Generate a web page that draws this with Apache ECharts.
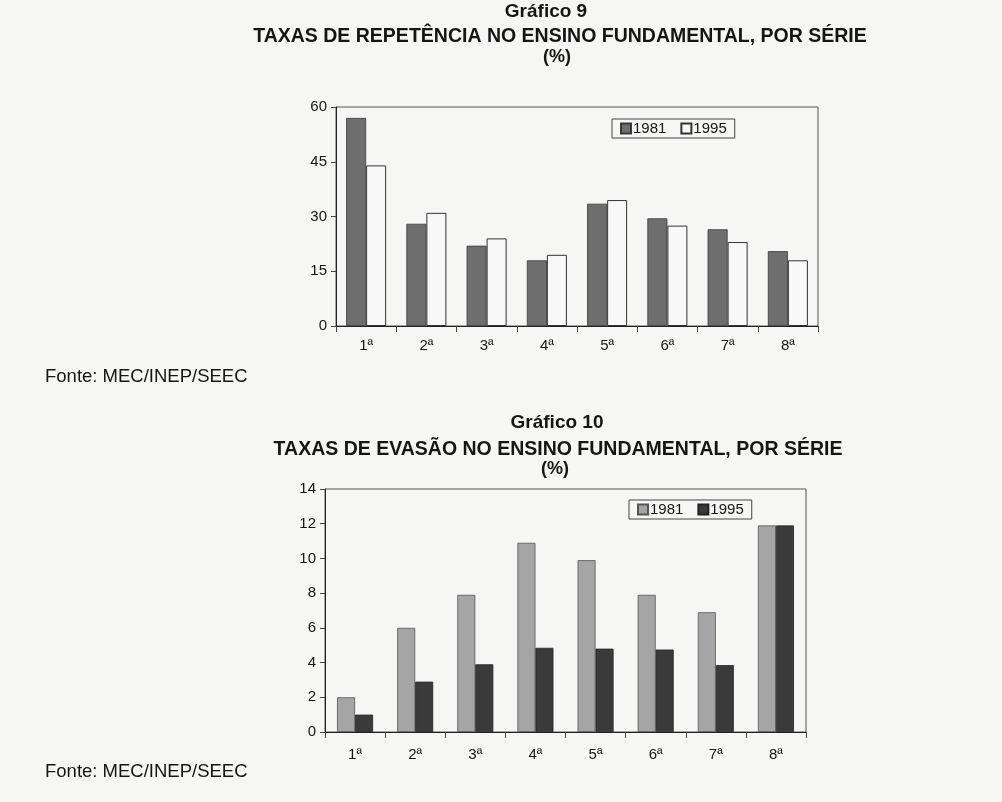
<!DOCTYPE html>
<html>
<head>
<meta charset="utf-8">
<script src="https://cdn.jsdelivr.net/npm/echarts@6/dist/echarts.min.js"></script>
<style>
html,body{margin:0;padding:0;background:#f6f6f4;}
#c{width:1002px;height:802px;}
</style>
</head>
<body>
<div id="c"></div>
<script>
// Shared categories
const series_labels = ['1ª','2ª','3ª','4ª','5ª','6ª','7ª','8ª'];

// Gráfico 9 – taxas de repetência (%)
const rep1981 = [57, 28, 22, 18, 33.5, 29.5, 26.5, 20.5];
const rep1995 = [44, 31, 24, 19.5, 34.5, 27.5, 23, 18];
const repTicks = [0, 15, 30, 45, 60];

// Gráfico 10 – taxas de evasão (%)
const eva1981 = [2, 6, 7.9, 10.9, 9.9, 7.9, 6.9, 11.9];
const eva1995 = [1, 2.9, 3.9, 4.85, 4.8, 4.75, 3.85, 11.9];
const evaTicks = [0, 2, 4, 6, 8, 10, 12, 14];

const FONT = 'Liberation Sans, Arial, sans-serif';
const chart = echarts.init(document.getElementById('c'), null, {renderer: 'canvas'});

function txt(x, y, s, size, bold, align) {
  return {
    type: 'text', x: x, y: y,
    style: {text: s, fontFamily: FONT, fontSize: size, fontWeight: bold ? 'bold' : 'normal',
            fill: '#151515', textAlign: align || 'center', textVerticalAlign: 'middle'}
  };
}

const axisLine = {show: true, lineStyle: {color: '#222', width: 1}};

function yAxis(idx, ticks) {
  return {
    type: 'value', gridIndex: idx, min: ticks[0], max: ticks[ticks.length - 1],
    interval: ticks[1] - ticks[0],
    axisLine: axisLine, axisTick: {show: true, length: 5, lineStyle: {color: '#444'}},
    splitLine: {show: false},
    axisLabel: {fontFamily: FONT, fontSize: 15, color: '#151515', margin: 9}
  };
}
function xAxis(idx, margin) {
  return {
    type: 'category', gridIndex: idx, data: series_labels,
    axisLine: axisLine,
    axisTick: {show: true, alignWithLabel: false, length: 6, inside: false, lineStyle: {color: '#444'}},
    axisLabel: {fontFamily: FONT, fontSize: 15, color: '#151515', margin: margin}
  };
}

function legend(left, top, names) {
  return {
    left: left, top: top, orient: 'horizontal',
    data: names.map(n => ({name: n, icon: 'rect'})),
    formatter: n => n.split(' ')[1],
    itemWidth: 10, itemHeight: 10, itemGap: 14,
    padding: [2, 8, 2, 8],
    borderColor: '#444', borderWidth: 1,
    textStyle: {fontFamily: FONT, fontSize: 15, color: '#151515', padding: [0, 0, 0, -3]},
    selectedMode: false
  };
}

const option = {
  backgroundColor: '#f6f6f4',
  animation: false,
  grid: [
    {left: 336, top: 107, width: 482, height: 219, show: true, borderColor: '#555', borderWidth: 1, backgroundColor: 'transparent'},
    {left: 325, top: 489, width: 481, height: 243, show: true, borderColor: '#555', borderWidth: 1, backgroundColor: 'transparent'}
  ],
  xAxis: [xAxis(0, 12), xAxis(1, 15)],
  yAxis: [yAxis(0, repTicks), yAxis(1, evaTicks)],
  legend: [
    legend(612, 119, ['Rep 1981', 'Rep 1995']),
    legend(629, 500, ['Eva 1981', 'Eva 1995'])
  ],
  series: [
    {name: 'Rep 1981', type: 'bar', xAxisIndex: 0, yAxisIndex: 0, data: rep1981,
     barWidth: 20, barGap: '0%',
     itemStyle: {color: '#6e6e6e', borderColor: '#3a3a3a', borderWidth: 0.8}},
    {name: 'Rep 1995', type: 'bar', xAxisIndex: 0, yAxisIndex: 0, data: rep1995,
     barWidth: 20, barGap: '0%',
     itemStyle: {color: '#f8f8f8', borderColor: '#333', borderWidth: 1}},
    {name: 'Eva 1981', type: 'bar', xAxisIndex: 1, yAxisIndex: 1, data: eva1981,
     barWidth: 18, barGap: '0%',
     itemStyle: {color: '#a5a5a5', borderColor: '#555', borderWidth: 0.8}},
    {name: 'Eva 1995', type: 'bar', xAxisIndex: 1, yAxisIndex: 1, data: eva1995,
     barWidth: 18, barGap: '0%',
     itemStyle: {color: '#3a3a3a', borderColor: '#222', borderWidth: 0.8}}
  ],
  graphic: [
    txt(546, 12, 'Gráfico 9', 19, true),
    txt(560, 37, 'TAXAS DE REPETÊNCIA NO ENSINO FUNDAMENTAL, POR SÉRIE', 19.5, true),
    txt(557, 57, '(%)', 18, true),
    txt(45, 377, 'Fonte: MEC/INEP/SEEC', 18.5, false, 'left'),
    txt(557, 423, 'Gráfico 10', 19, true),
    txt(558, 450, 'TAXAS DE EVASÃO NO ENSINO FUNDAMENTAL, POR SÉRIE', 19.5, true),
    txt(555, 469, '(%)', 18, true),
    txt(45, 772, 'Fonte: MEC/INEP/SEEC', 18.5, false, 'left')
  ]
};
chart.setOption(option);
</script>
</body>
</html>
